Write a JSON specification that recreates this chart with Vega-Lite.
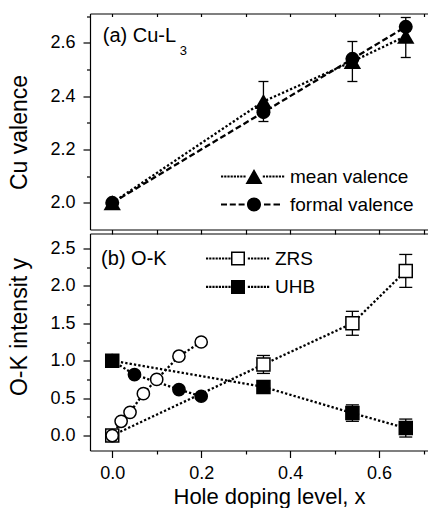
{
  "$schema": "https://vega.github.io/schema/vega-lite/v6.json",
  "usermeta": {"embedOptions": {"actions": false}},
  "padding": {"left": 7, "top": 12.5, "right": 0, "bottom": 0},
  "spacing": 4,
  "bounds": "flush",
  "config": {
    "font": "Liberation Sans",
    "view": {"stroke": null},
    "axis": {"grid": false, "domainColor": "black", "tickColor": "black", "labelColor": "black", "titleColor": "black", "labelFontSize": 18, "titleFontSize": 23, "titleFontWeight": "normal", "domainWidth": 1.2, "tickWidth": 1.2},
    "text": {"color": "black"}
  },
  "resolve": {
    "scale": {"shape": "independent", "size": "independent", "strokeDash": "independent", "fill": "independent"},
    "legend": {"shape": "independent"}
  },
  "datasets": {
    "valence": [
      {"x": 0, "y": 2.0, "series": "mean valence"},
      {"x": 0.34, "y": 2.38, "lo": 2.305, "hi": 2.455, "series": "mean valence"},
      {"x": 0.54, "y": 2.53, "lo": 2.455, "hi": 2.605, "series": "mean valence"},
      {"x": 0.66, "y": 2.625, "lo": 2.545, "hi": 2.695, "series": "mean valence"},
      {"x": 0, "y": 2.0, "series": "formal valence"},
      {"x": 0.34, "y": 2.34, "series": "formal valence"},
      {"x": 0.54, "y": 2.54, "series": "formal valence"},
      {"x": 0.66, "y": 2.66, "series": "formal valence"}
    ],
    "okmain": [
      {"x": 0, "y": 0.0, "type": "ZRS"},
      {"x": 0.34, "y": 0.95, "lo": 0.83, "hi": 1.07, "type": "ZRS"},
      {"x": 0.54, "y": 1.5, "lo": 1.34, "hi": 1.66, "type": "ZRS"},
      {"x": 0.66, "y": 2.2, "lo": 1.98, "hi": 2.42, "type": "ZRS"},
      {"x": 0, "y": 1.0, "type": "UHB"},
      {"x": 0.34, "y": 0.65, "type": "UHB"},
      {"x": 0.54, "y": 0.3, "lo": 0.19, "hi": 0.41, "type": "UHB"},
      {"x": 0.66, "y": 0.1, "lo": -0.02, "hi": 0.22, "type": "UHB"}
    ],
    "oklow": [
      {"x": 0, "y": 0.0, "type": "ZRS"},
      {"x": 0.02, "y": 0.19, "type": "ZRS"},
      {"x": 0.04, "y": 0.31, "type": "ZRS"},
      {"x": 0.07, "y": 0.56, "type": "ZRS"},
      {"x": 0.1, "y": 0.75, "type": "ZRS"},
      {"x": 0.15, "y": 1.06, "type": "ZRS"},
      {"x": 0.2, "y": 1.25, "type": "ZRS"},
      {"x": 0, "y": 1.0, "type": "UHB"},
      {"x": 0.05, "y": 0.815, "type": "UHB"},
      {"x": 0.15, "y": 0.615, "type": "UHB"},
      {"x": 0.2, "y": 0.525, "type": "UHB"}
    ]
  },
  "vconcat": [
    {
      "width": 338,
      "height": 216,
      "resolve": {"scale": {"shape": "independent"}, "axis": {"x": "independent", "y": "independent"}},
      "layer": [
        {
          "data": {"name": "valence"},
          "transform": [{"filter": "isValid(datum.lo)"}],
          "mark": {"type": "rule", "color": "black", "strokeWidth": 1.3},
          "encoding": {
            "x": {"field": "x", "type": "quantitative", "scale": {"domain": [-0.05, 0.71], "nice": false, "zero": false},
                  "axis": {"orient": "top", "values": [0, 0.1, 0.2, 0.3, 0.4, 0.5, 0.6, 0.7], "labels": false, "tickSize": -3, "title": null}},
            "y": {"field": "lo", "type": "quantitative", "scale": {"domain": [1.9, 2.71], "nice": false, "zero": false},
                  "axis": {"orient": "left", "values": [2.1, 2.3, 2.5, 2.7], "labels": false, "domain": false, "tickSize": 3.5, "title": null}},
            "y2": {"field": "hi"}
          }
        },
        {
          "data": {"name": "valence"},
          "transform": [{"filter": "isValid(datum.lo)"}],
          "mark": {"type": "tick", "orient": "horizontal", "size": 10, "thickness": 1.3, "color": "black", "opacity": 1},
          "encoding": {
            "x": {"field": "x", "type": "quantitative",
                  "axis": {"orient": "bottom", "values": [0, 0.1, 0.2, 0.3, 0.4, 0.5, 0.6, 0.7], "labels": false, "tickSize": 4.5, "title": null}},
            "y": {"field": "lo", "type": "quantitative", "axis": null}
          }
        },
        {
          "data": {"name": "valence"},
          "transform": [{"filter": "isValid(datum.lo)"}],
          "mark": {"type": "tick", "orient": "horizontal", "size": 10, "thickness": 1.3, "color": "black", "opacity": 1},
          "encoding": {
            "x": {"field": "x", "type": "quantitative", "axis": null},
            "y": {"field": "hi", "type": "quantitative", "axis": null}
          }
        },
        {
          "data": {"name": "valence"},
          "mark": {"type": "line", "color": "black", "strokeWidth": 2.3},
          "encoding": {
            "x": {"field": "x", "type": "quantitative", "axis": null},
            "y": {"field": "y", "type": "quantitative",
                  "axis": {"orient": "left", "values": [2.0, 2.2, 2.4, 2.6], "format": ".1f", "tickSize": 7, "labelPadding": 8,
                           "title": "Cu valence", "titleX": -64, "titleY": 118.5, "titleAlign": "center", "titleBaseline": "alphabetic"}},
            "strokeDash": {"field": "series", "type": "nominal", "scale": {"domain": ["mean valence", "formal valence"], "range": [[2.3, 2.1], [6, 3]]}, "legend": null}
          }
        },
        {
          "data": {"name": "valence"},
          "mark": {"type": "point", "filled": true, "color": "black", "opacity": 1, "strokeWidth": 0},
          "encoding": {
            "x": {"field": "x", "type": "quantitative", "axis": null},
            "y": {"field": "y", "type": "quantitative", "axis": null},
            "shape": {"field": "series", "type": "nominal", "scale": {"domain": ["mean valence", "formal valence"], "range": ["triangle-up", "circle"]}, "legend": null},
            "size": {"field": "series", "type": "ordinal", "scale": {"domain": ["mean valence", "formal valence"], "range": [300, 196]}, "legend": null}
          }
        },
        {
          "data": {"name": "valence"},
          "mark": {"type": "point", "filled": true, "color": "black", "opacity": 0, "strokeWidth": 0, "size": 10},
          "encoding": {
            "x": {"field": "x", "type": "quantitative", "axis": null},
            "y": {"field": "y", "type": "quantitative", "axis": null},
            "shape": {"field": "series", "type": "nominal",
                      "scale": {"domain": ["mean valence", "formal valence"],
                                "range": [
                                  "M-5.3,-0.11h0.22v0.22h-0.22ZM-4.98,-0.11h0.22v0.22h-0.22ZM-4.66,-0.11h0.22v0.22h-0.22ZM-4.34,-0.11h0.22v0.22h-0.22ZM-4.02,-0.11h0.22v0.22h-0.22ZM-3.7,-0.11h0.22v0.22h-0.22ZM-3.38,-0.11h0.22v0.22h-0.22ZM-3.06,-0.11h0.22v0.22h-0.22ZM-1.12,-0.11h0.22v0.22h-0.22ZM-0.8,-0.11h0.22v0.22h-0.22ZM-0.48,-0.11h0.22v0.22h-0.22ZM-0.16,-0.11h0.22v0.22h-0.22ZM0.16,-0.11h0.22v0.22h-0.22ZM0.48,-0.11h0.22v0.22h-0.22ZM0.8,-0.11h0.22v0.22h-0.22ZM-2,-0.74L-2.85,0.74L-1.15,0.74Z",
                                  "M-5.3,-0.11h0.6v0.22h-0.6ZM-4.42,-0.11h0.6v0.22h-0.6ZM-3.54,-0.11h0.6v0.22h-0.6ZM-1.0,-0.11h0.65v0.22h-0.65ZM-0.05,-0.11h0.65v0.22h-0.65ZM-2.7,0A0.7,0.7,0,1,0,-1.3,0A0.7,0.7,0,1,0,-2.7,0Z"
                                ]},
                      "legend": {"orient": "none", "legendX": 174, "legendY": 153, "title": null, "padding": 0,
                                 "symbolSize": 400, "symbolStrokeWidth": 0, "symbolFillColor": "black", "symbolOpacity": 1,
                                 "labelFontSize": 19, "labelColor": "black", "labelOffset": 6, "rowPadding": 8}}
          }
        },
        {
          "data": {"values": [{}]},
          "mark": {"type": "text", "text": "(a) Cu-L", "align": "left", "baseline": "alphabetic", "fontSize": 20},
          "encoding": {
            "x": {"datum": -0.0214, "type": "quantitative", "axis": null},
            "y": {"datum": 2.602, "type": "quantitative", "axis": null}
          }
        },
        {
          "data": {"values": [{}]},
          "mark": {"type": "text", "text": "3", "align": "left", "baseline": "alphabetic", "fontSize": 13},
          "encoding": {
            "x": {"datum": 0.152, "type": "quantitative", "axis": null},
            "y": {"datum": 2.556, "type": "quantitative", "axis": null}
          }
        }
      ]
    },
    {
      "width": 338,
      "height": 217,
      "resolve": {"axis": {"x": "independent", "y": "independent"}},
      "layer": [
        {
          "data": {"name": "okmain"},
          "transform": [{"filter": "isValid(datum.lo)"}],
          "mark": {"type": "rule", "color": "black", "strokeWidth": 1.3},
          "encoding": {
            "x": {"field": "x", "type": "quantitative", "scale": {"domain": [-0.05, 0.71], "nice": false, "zero": false},
                  "axis": {"orient": "top", "ticks": false, "labels": false, "title": null}},
            "y": {"field": "lo", "type": "quantitative", "scale": {"domain": [-0.2, 2.7], "nice": false, "zero": false},
                  "axis": {"orient": "left", "values": [0.25, 0.75, 1.25, 1.75, 2.25], "labels": false, "domain": false, "tickSize": 3.5, "title": null}},
            "y2": {"field": "hi"}
          }
        },
        {
          "data": {"name": "okmain"},
          "transform": [{"filter": "isValid(datum.lo)"}],
          "mark": {"type": "tick", "orient": "horizontal", "size": 13, "thickness": 1.3, "color": "black", "opacity": 1},
          "encoding": {
            "x": {"field": "x", "type": "quantitative",
                  "axis": {"orient": "bottom", "values": [0, 0.2, 0.4, 0.6], "format": ".1f", "tickSize": 7, "labelPadding": 7,
                           "title": "Hole doping level, x", "titleFontSize": 22, "titleX": 179, "titleY": 53, "titleAlign": "center", "titleBaseline": "alphabetic"}},
            "y": {"field": "lo", "type": "quantitative", "axis": null}
          }
        },
        {
          "data": {"name": "okmain"},
          "transform": [{"filter": "isValid(datum.lo)"}],
          "mark": {"type": "tick", "orient": "horizontal", "size": 13, "thickness": 1.3, "color": "black", "opacity": 1},
          "encoding": {
            "x": {"field": "x", "type": "quantitative",
                  "axis": {"orient": "bottom", "values": [0.1, 0.3, 0.5, 0.7], "labels": false, "domain": false, "tickSize": 3.5, "title": null}},
            "y": {"field": "hi", "type": "quantitative", "axis": null}
          }
        },
        {
          "data": {"name": "okmain"},
          "mark": {"type": "line", "color": "black", "strokeWidth": 2.3, "strokeDash": [2.3, 2.1]},
          "encoding": {
            "x": {"field": "x", "type": "quantitative", "axis": null},
            "y": {"field": "y", "type": "quantitative",
                  "axis": {"orient": "left", "values": [0, 0.5, 1, 1.5, 2, 2.5], "format": ".1f", "tickSize": 7, "labelPadding": 8,
                           "title": "O-K intensit y", "titleX": -64, "titleY": 93, "titleAlign": "center", "titleBaseline": "alphabetic"}},
            "detail": {"field": "type", "type": "nominal"}
          }
        },
        {
          "data": {"name": "oklow"},
          "mark": {"type": "line", "color": "black", "strokeWidth": 2.3, "strokeDash": [2.3, 2.1]},
          "encoding": {
            "x": {"field": "x", "type": "quantitative", "axis": null},
            "y": {"field": "y", "type": "quantitative", "axis": null},
            "detail": {"field": "type", "type": "nominal"}
          }
        },
        {
          "data": {"name": "okmain"},
          "mark": {"type": "point", "shape": "square", "size": 169, "filled": true, "stroke": "black", "strokeWidth": 1.5, "opacity": 1},
          "encoding": {
            "x": {"field": "x", "type": "quantitative", "axis": null},
            "y": {"field": "y", "type": "quantitative", "axis": null},
            "fill": {"field": "type", "type": "nominal", "scale": {"domain": ["UHB", "ZRS"], "range": ["black", "white"]}, "legend": null}
          }
        },
        {
          "data": {"name": "oklow"},
          "mark": {"type": "point", "shape": "circle", "size": 150, "filled": true, "stroke": "black", "strokeWidth": 1.5, "opacity": 1},
          "encoding": {
            "x": {"field": "x", "type": "quantitative", "axis": null},
            "y": {"field": "y", "type": "quantitative", "axis": null},
            "fill": {"field": "type", "type": "nominal", "scale": {"domain": ["UHB", "ZRS"], "range": ["black", "white"]}, "legend": null}
          }
        },
        {
          "data": {"name": "okmain"},
          "mark": {"type": "point", "filled": true, "color": "black", "opacity": 0, "strokeWidth": 0, "size": 10},
          "encoding": {
            "x": {"field": "x", "type": "quantitative", "axis": null},
            "y": {"field": "y", "type": "quantitative", "axis": null},
            "shape": {"field": "type", "type": "nominal",
                      "scale": {"domain": ["ZRS", "UHB"],
                                "range": [
                                  "M-5.3,-0.11h0.22v0.22h-0.22ZM-4.98,-0.11h0.22v0.22h-0.22ZM-4.66,-0.11h0.22v0.22h-0.22ZM-4.34,-0.11h0.22v0.22h-0.22ZM-4.02,-0.11h0.22v0.22h-0.22ZM-3.7,-0.11h0.22v0.22h-0.22ZM-3.38,-0.11h0.22v0.22h-0.22ZM-3.06,-0.11h0.22v0.22h-0.22ZM-1.12,-0.11h0.22v0.22h-0.22ZM-0.8,-0.11h0.22v0.22h-0.22ZM-0.48,-0.11h0.22v0.22h-0.22ZM-0.16,-0.11h0.22v0.22h-0.22ZM0.16,-0.11h0.22v0.22h-0.22ZM0.48,-0.11h0.22v0.22h-0.22ZM0.8,-0.11h0.22v0.22h-0.22ZM-2.8,-0.7h1.4v1.4h-1.4ZM-2.65,-0.55v1.1h1.1v-1.1Z",
                                  "M-5.3,-0.11h0.22v0.22h-0.22ZM-4.98,-0.11h0.22v0.22h-0.22ZM-4.66,-0.11h0.22v0.22h-0.22ZM-4.34,-0.11h0.22v0.22h-0.22ZM-4.02,-0.11h0.22v0.22h-0.22ZM-3.7,-0.11h0.22v0.22h-0.22ZM-3.38,-0.11h0.22v0.22h-0.22ZM-3.06,-0.11h0.22v0.22h-0.22ZM-1.12,-0.11h0.22v0.22h-0.22ZM-0.8,-0.11h0.22v0.22h-0.22ZM-0.48,-0.11h0.22v0.22h-0.22ZM-0.16,-0.11h0.22v0.22h-0.22ZM0.16,-0.11h0.22v0.22h-0.22ZM0.48,-0.11h0.22v0.22h-0.22ZM0.8,-0.11h0.22v0.22h-0.22ZM-2.8,-0.7h1.4v1.4h-1.4Z"
                                ]},
                      "legend": {"orient": "none", "legendX": 159, "legendY": 15, "title": null, "padding": 0,
                                 "symbolSize": 400, "symbolStrokeWidth": 0, "symbolFillColor": "black", "symbolOpacity": 1,
                                 "labelFontSize": 19, "labelColor": "black", "labelOffset": 6, "rowPadding": 8.4}}
          }
        },
        {
          "data": {"values": [{}]},
          "mark": {"type": "text", "text": "(b) O-K", "align": "left", "baseline": "alphabetic", "fontSize": 20},
          "encoding": {
            "x": {"datum": -0.025, "type": "quantitative", "axis": null},
            "y": {"datum": 2.279, "type": "quantitative", "axis": null}
          }
        }
      ]
    }
  ]
}
